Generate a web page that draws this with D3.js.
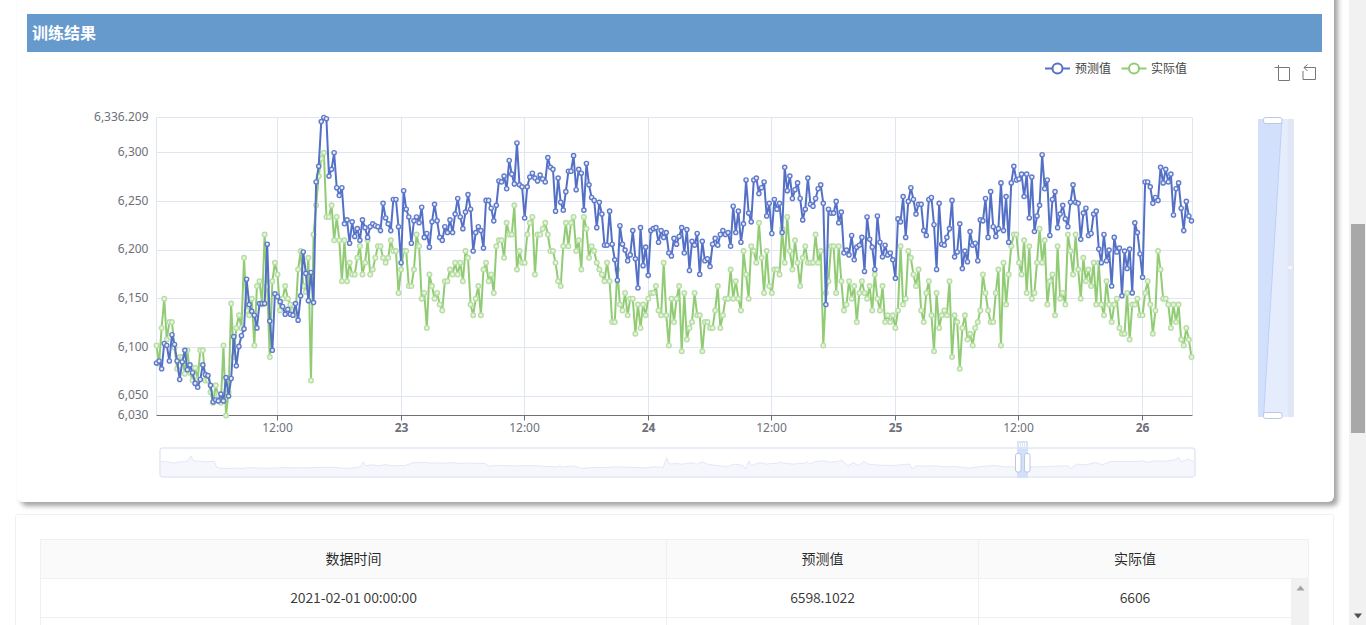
<!DOCTYPE html>
<html><head><meta charset="utf-8">
<script src="https://cdn.jsdelivr.net/npm/d3@7"></script>
<style>
html,body{margin:0;padding:0;background:#fff;overflow:hidden;width:1366px;height:625px}
svg{position:absolute;left:0;top:0}
text{font-family:"Noto Sans CJK SC","Noto Sans",sans-serif}
#card{position:absolute;left:17px;top:-30px;width:1317px;height:532px;background:#fff;border-radius:6px;box-shadow:4px 4px 5px rgba(0,0,0,.36)}
</style></head><body>
<div id="card"></div>
<svg id="c" width="1366" height="625"></svg>
<script>
const predicted=[6084,6086,6078,6104,6102,6086,6113,6103,6086,6067,6085,6097,6077,6082,6074,6063,6059,6067,6082,6072,6071,6061,6044,6046,6045,6052,6045,6069,6050,6068,6111,6081,6101,6112,6119,6170,6144,6137,6133,6120,6145,6145,6145,6206,6127,6097,6155,6152,6147,6142,6134,6139,6134,6133,6145,6128,6153,6198,6176,6148,6177,6146,6270,6286,6332,6336.209,6335,6276,6283,6300,6264,6256,6264,6227,6231,6207,6229,6214,6222,6210,6231,6223,6213,6224,6227,6225,6224,6220,6248,6233,6227,6220,6252,6252,6224,6187,6261,6242,6234,6207,6230,6234,6228,6244,6213,6217,6203,6229,6247,6230,6213,6210,6224,6218,6231,6218,6237,6253,6234,6222,6239,6257,6242,6199,6218,6224,6220,6202,6251,6251,6243,6230,6246,6271,
6270,6276,6263,6292,6278,6268,6310,6267,6265,6233,6265,6275,6279,6274,6271,6277,6273,6270,6295,6285,6283,6240,6274,6249,6241,6260,6281,6281,6297,6262,6283,6279,6241,6289,6267,6254,6251,6223,6249,6237,6205,6205,6240,6206,6190,6169,6225,6206,6200,6189,6195,6220,6191,6161,6223,6184,6203,6174,6220,6222,6223,6208,6220,6213,6218,6197,6194,6212,6206,6214,6223,6197,6221,6179,6209,6205,6217,6175,6209,6189,6191,6183,6206,6212,6205,6216,6220,6216,6218,6204,6245,6218,6240,6208,6227,6272,6238,6229,6272,6274,6258,6264,6270,6235,6248,6217,6252,6242,6248,6218,6285,6261,6276,6253,6262,6269,6253,6231,6242,6274,6247,6245,6253,6263,6267,6248,6144,6242,6238,6238,6250,6228,6239,6197,6200,6195,
6215,6190,6203,6205,6213,6178,6234,6211,6203,6180,6235,6208,6193,6205,6195,6197,6190,6171,6232,6229,6255,6213,6250,6264,6252,6237,6247,6247,6220,6215,6252,6254,6226,6180,6248,6206,6205,6213,6222,6251,6193,6198,6227,6181,6199,6188,6219,6205,6207,6189,6231,6230,6253,6213,6260,6224,6214,6222,6269,6220,6255,6208,6269,6286,6272,6273,6278,6255,6278,6233,6275,6219,6235,6246,6298,6263,6272,6215,6252,6260,6223,6237,6246,6232,6224,6249,6267,6249,6248,6211,6238,6243,6215,6217,6237,6240,6201,6187,6216,6189,6200,6163,6213,6198,6202,6153,6199,6181,6201,6156,6228,6218,6196,6172,6270,6270,6265,6248,6254,6251,6285,6269,6283,6270,6278,6236,6263,6269,6243,6220,6250,6235,6230];
const actual=[6102,6083,6120,6150,6108,6126,6126,6100,6078,6090,6090,6073,6097,6074,6066,6079,6067,6097,6097,6066,6066,6054,6043,6061,6051,6043,6102,6030,6054,6145,6090,6120,6133,6120,6192,6138,6133,6150,6102,6163,6168,6144,6216,6163,6090,6168,6187,6175,6138,6150,6163,6150,6144,6138,6133,6180,6199,6163,6157,6192,6066,6216,6246,6276,6294,6300,6234,6234,6246,6210,6234,6210,6168,6210,6168,6187,6175,6175,6192,6204,6175,6187,6210,6175,6180,6192,6204,6204,6192,6187,6192,6210,6199,6199,6156,6180,6199,6199,6163,6163,6180,6216,6204,6150,6156,6120,6175,6163,6150,6156,6144,6138,6168,6168,6180,6175,6187,6175,6187,6168,6199,6192,6144,6133,6150,6163,6133,6180,6187,6168,6175,6156,6204,6210,
6210,6192,6228,6216,6216,6246,6180,6199,6187,6187,6216,6228,6234,6175,6216,6216,6222,6228,6216,6199,6199,6187,6168,6163,6204,6228,6204,6228,6234,6199,6210,6180,6234,6222,6192,6204,6199,6187,6180,6175,6168,6187,6168,6126,6126,6180,6144,6138,6156,6133,6150,6150,6114,6144,6120,6144,6133,6150,6156,6156,6163,6138,6133,6187,6133,6102,6150,6126,6150,6163,6096,6156,6108,6120,6126,6156,6133,6133,6096,6126,6126,6120,6120,6138,6163,6120,6133,6150,6150,6180,6150,6168,6150,6138,6199,6175,6150,6204,6199,6187,6228,6192,6156,6199,6163,6156,6180,6180,6175,6222,6187,6234,6199,6180,6210,6187,6163,6192,6204,6187,6187,6187,6216,6187,6199,6102,6156,6168,6204,6204,6156,6204,6168,6138,6144,6168,
6150,6163,6126,6156,6168,6156,6150,6163,6138,6175,6150,6138,6163,6126,6133,6126,6133,6120,6138,6204,6144,6150,6199,6192,6175,6163,6180,6138,6126,6156,6168,6133,6096,6156,6120,6133,6138,6133,6168,6090,6133,6126,6078,6120,6133,6108,6114,6102,6120,6126,6138,6175,6156,6138,6126,6126,6156,6180,6102,6187,6144,6175,6204,6216,6216,6187,6175,6210,6156,6204,6150,6156,6187,6222,6187,6210,6144,6168,6175,6133,6204,6150,6156,6144,6216,6199,6175,6216,6180,6150,6192,6168,6180,6163,6187,6144,6187,6144,6133,6168,6144,6126,6144,6150,6120,6114,6114,6156,6108,6144,6144,6150,6133,6133,6156,6168,6144,6114,6138,6199,6180,6150,6150,6144,6120,6144,6126,6144,6108,6102,6120,6108,6090];
const yTicks=[6030,6050,6100,6150,6200,6250,6300,6336.209];
const xTickTimes=["2021-02-22 12:00","2021-02-23 00:00","2021-02-23 12:00","2021-02-24 00:00","2021-02-24 12:00","2021-02-25 00:00","2021-02-25 12:00","2021-02-26 00:00"];
const xTickLabels=["12:00","23","12:00","24","12:00","25","12:00","26"];
const legendNames=["预测值","实际值"];
const seriesColors=["#5470c6","#91cc75"];
const tableHead=["数据时间","预测值","实际值"];
const tableRow=["2021-02-01 00:00:00","6598.1022","6606"];
const overviewPct=[0,.65,1.3,1.77,2.25,2.58,2.9,3.12,3.7,4.35,4.83,5.15,5.41,5.8,6.44,7.08,7.73,8.37,9.02,9.66,10.3,10.95,11.59,12.24,12.88,13.52,14.17,14.97,15.62,16.26,16.9,17.55,18.19,18.84,19.32,19.58,19.8,20.45,21.09,21.73,22.38,23.02,23.67,24.31,24.95,25.6,26.24,26.89,27.53,28.18,28.82,29.46,30.11,30.75,31.4,31.72,32.36,33,
33.65,34.6,35.9,37.2,38.5,38.6,38.8,39.6,40.1,40.7,41.4,42,43,43.96,44.9,45.9,46.85,47.8,48.6,48.95,49.2,49.75,50.4,51.4,51.85,52.4,53,53.9,54.75,55.55,56.35,56.6,56.9,57.15,57.97,58.6,59.1,59.6,59.9,60.5,61.35,61.7,62.3,62.5,62.8,63.4,64.1,64.7,65.5,65.9,66.5,67,
67.5,68.05,68.6,69.7,70.7,71.65,72.5,72.7,73.1,73.9,74.9,75.85,76.8,78.25,79.4,80.7,81.65,82.6,83.9,85.2,86.5,87.8,88.1,88.6,89.5,90.5,91.1,91.95,93.2,94.5,95,95.5,96.3,97.25,98.2,98.5,98.8,99.4,100];
const overviewLevel=[45,44,40,44,44,47,62,47,46,44,45,45,27,25,24,25,24,26,26,25,25,25,26,27,26,26,26,27,27,28,27,25,25,27,29,44,32,35,32,36,32,33,33,41,42,42,40,41,40,42,39,40,40,39,39,31,33,33,
32,32,33,30,29,34,28,31,31,24,26,27,27,29,28,27,26,29,27,56,37,39,37,41,37,44,36,33,30,37,33,22,47,33,42,37,39,39,43,39,37,40,39,45,37,45,47,43,45,49,32,41,
33,45,36,34,33,35,37,23,32,31,32,29,30,25,30,33,29,29,29,29,31,32,24,37,35,42,35,45,45,45,47,43,47,46,50,57,44,52,45];

const svg=d3.select("#c");
const parse=d3.timeParse("%Y-%m-%d %H:%M");
const t0=parse("2021-02-22 00:15");
const times=predicted.map((_,i)=>d3.timeMinute.offset(t0,i*15));
const x=d3.scaleTime().domain([t0,parse("2021-02-26 04:51")]).range([156.5,1192.5]);
const y=d3.scaleLinear().domain([6030,6336.209]).range([415.5,117.5]);
const crisp=v=>Math.floor(v)+.5;

// header
svg.append("rect").attr("x",27).attr("y",14).attr("width",1295).attr("height",38).attr("fill","#6699cc");
svg.append("text").attr("x",32).attr("y",39).attr("fill","#fff").attr("font-size",16).attr("font-weight",700).text("训练结果");

// grid
const g=svg.append("g");
g.selectAll(".h").data(yTicks.slice(1)).join("line").attr("x1",156.5).attr("x2",1192.5)
 .attr("y1",d=>crisp(y(d))).attr("y2",d=>crisp(y(d))).attr("stroke","#e0e6f1");
const vLines=[t0,...xTickTimes.map(parse),x.domain()[1]];
g.selectAll(".v").data(vLines).join("line").attr("y1",117.5).attr("y2",415)
 .attr("x1",d=>crisp(x(d))).attr("x2",d=>crisp(x(d))).attr("stroke","#e0e6f1");

// axes
const tickFont='"Noto Sans",sans-serif';
const yAxis=d3.axisLeft(y).tickValues(yTicks).tickSize(0).tickPadding(8).tickFormat(d3.format(","));
const ya=svg.append("g").attr("transform","translate(156.5,-1)").call(yAxis);
ya.select(".domain").remove();
ya.selectAll("text").attr("fill","#6E7079").style("font-size","12px").style("font-family",tickFont);
const xAxis=d3.axisBottom(x).tickValues(xTickTimes.map(parse)).tickSize(5).tickPadding(3).tickFormat((d,i)=>xTickLabels[i]);
const xa=svg.append("g").attr("transform","translate(0,415.5)").call(xAxis);
xa.select(".domain").attr("d","M156.5,0H1192.5").attr("stroke","#6E7079");
xa.selectAll(".tick line").attr("stroke","#6E7079").attr("transform",null);
xa.selectAll(".tick").attr("transform",d=>`translate(${crisp(x(d))},0)`);
xa.selectAll("text").attr("fill","#6E7079").style("font-size","12px").style("font-family",tickFont)
 .attr("font-weight",(d,i)=>i%2?700:400);

// series
function drawSeries(vals,color,dotStroke,dotFill,r){
  const line=d3.line().x((d,i)=>x(times[i])).y(d=>y(d));
  const s=svg.append("g");
  s.append("path").attr("d",line(vals)).attr("fill","none").attr("stroke",color).attr("stroke-width",2).attr("stroke-linejoin","bevel");
  s.selectAll("circle").data(vals).join("circle").attr("cx",(d,i)=>x(times[i])).attr("cy",d=>y(d)).attr("r",r)
   .attr("fill",dotFill).attr("stroke",dotStroke).attr("stroke-width",1.4);
}
drawSeries(actual,seriesColors[1],"#b7dea4","#e6f4de",2.3);
drawSeries(predicted,seriesColors[0],"#5f7acb","#e9edf9",2.1);

// legend
[[1045,1075],[1121.5,1151]].forEach((p,i)=>{
  svg.append("line").attr("x1",p[0]).attr("x2",p[0]+25).attr("y1",68.5).attr("y2",68.5).attr("stroke",seriesColors[i]).attr("stroke-width",2);
  svg.append("circle").attr("cx",p[0]+12.5).attr("cy",68.5).attr("r",5).attr("fill","#fff").attr("stroke",seriesColors[i]).attr("stroke-width",2);
  svg.append("text").attr("x",p[1]).attr("y",72.5).attr("font-size",12).attr("fill","#444").text(legendNames[i]);
});

// toolbox
const icon=svg.append("g").attr("fill","none").attr("stroke","#777").attr("stroke-width",1);
icon.append("path").attr("d","M1274.5,67.5H1289.5V80.5H1278.5V65");
icon.append("path").attr("d","M1303,71V79.5H1315.5V67.5H1304M1304,67.5L1307.5,64.5M1304,67.5L1307.5,71");

// bottom data zoom
const ox=d3.scaleLinear().domain([0,100]).range([161,1194]);
const oy=d3.scaleLinear().domain([0,87]).range([476.5,447.5]);
svg.append("rect").attr("x",160).attr("y",448).attr("width",1035).attr("height",29).attr("rx",3)
 .attr("fill","#fff").attr("stroke","#e3e8f5").attr("stroke-width",1.6);
const ov=overviewPct.map((p,i)=>[p,overviewLevel[i]]);
svg.append("path").attr("d",d3.area().x(d=>ox(d[0])).y0(476).y1(d=>oy(d[1]))(ov)).attr("fill","#f6f7fc");
svg.append("path").attr("d",d3.line().x(d=>ox(d[0])).y(d=>oy(d[1]))(ov)).attr("fill","none").attr("stroke","#e4e8f4").attr("stroke-width",1);
svg.append("rect").attr("x",1017).attr("y",449).attr("width",11).attr("height",29).attr("fill","#d3e0fb");
svg.append("rect").attr("x",1017).attr("y",441).attr("width",11).attr("height",8).attr("fill","#dbe3f4");
[1019.5,1021.5,1023.5,1025.5].forEach(mx=>svg.append("line").attr("x1",mx).attr("x2",mx).attr("y1",443).attr("y2",447).attr("stroke","#fff"));
[1015.5,1024.5].forEach(hx=>svg.append("rect").attr("x",hx).attr("y",453.5).attr("width",5.5).attr("height",18.5).attr("rx",2)
 .attr("fill","#fff").attr("stroke","#b9c6e4").attr("stroke-width",1));

// vertical data zoom
svg.append("rect").attr("x",1258).attr("y",119).attr("width",36).attr("height",298).attr("fill","#e0e6f3");
svg.append("rect").attr("x",1258).attr("y",119).attr("width",29.5).attr("height",298).attr("fill","#e5edfd");
svg.append("polygon").attr("points","1258,119 1282,119 1263.5,417 1258,417").attr("fill","#d2e0fc");
svg.append("line").attr("x1",1282).attr("y1",119).attr("x2",1263.5).attr("y2",417).attr("stroke","#bdd0f8").attr("stroke-width",1);
[117.5,412.5].forEach(hy=>svg.append("rect").attr("x",1263.5).attr("y",hy).attr("width",18.5).attr("height",6).attr("rx",2)
 .attr("fill","#fff").attr("stroke","#b9c6e4").attr("stroke-width",1));
svg.append("line").attr("x1",1288.5).attr("x2",1292).attr("y1",267.5).attr("y2",267.5).attr("stroke","#fff").attr("stroke-width",3).attr("stroke-dasharray","1 .5");

// table panel
svg.append("rect").attr("x",15.5).attr("y",514.5).attr("width",1318).attr("height",130).attr("rx",2).attr("fill","#fff").attr("stroke","#f0f0f0");
svg.append("rect").attr("x",40.5).attr("y",539.5).attr("width",1268).attr("height",39).attr("fill","#fafafa").attr("stroke","#f0f0f0");
[578.5,617.5].forEach(yy=>svg.append("line").attr("x1",40.5).attr("x2",1308.5).attr("y1",yy).attr("y2",yy).attr("stroke","#f0f0f0"));
[40.5,666.5,978.5,1308.5].forEach(xx=>svg.append("line").attr("x1",xx).attr("x2",xx).attr("y1",539.5).attr("y2",625).attr("stroke","#f0f0f0"));
svg.append("rect").attr("x",1291).attr("y",579).attr("width",18).attr("height",46).attr("fill","#f1f1f1");
svg.append("polygon").attr("points","1296.5,590.5 1304.5,590.5 1300.5,585.5").attr("fill","#a3a3a3");
[353.5,822.5,1135].forEach((cx,i)=>{
  svg.append("text").attr("x",cx).attr("y",564).attr("text-anchor","middle").attr("font-size",14).attr("fill","rgba(0,0,0,.85)").text(tableHead[i]);
  svg.append("text").attr("x",cx).attr("y",603).attr("text-anchor","middle").attr("font-size",14).attr("letter-spacing",-0.15).attr("fill","rgba(0,0,0,.78)").text(tableRow[i]);
});

// page scrollbar
svg.append("rect").attr("x",1349).attr("y",0).attr("width",17).attr("height",625).attr("fill","#f1f1f1");
svg.append("rect").attr("x",1351).attr("y",224).attr("width",14).attr("height",209).attr("fill","#a8a8a8");
svg.append("polygon").attr("points","1354,613.5 1362,613.5 1358,618.5").attr("fill","#505050");
</script></body></html>
